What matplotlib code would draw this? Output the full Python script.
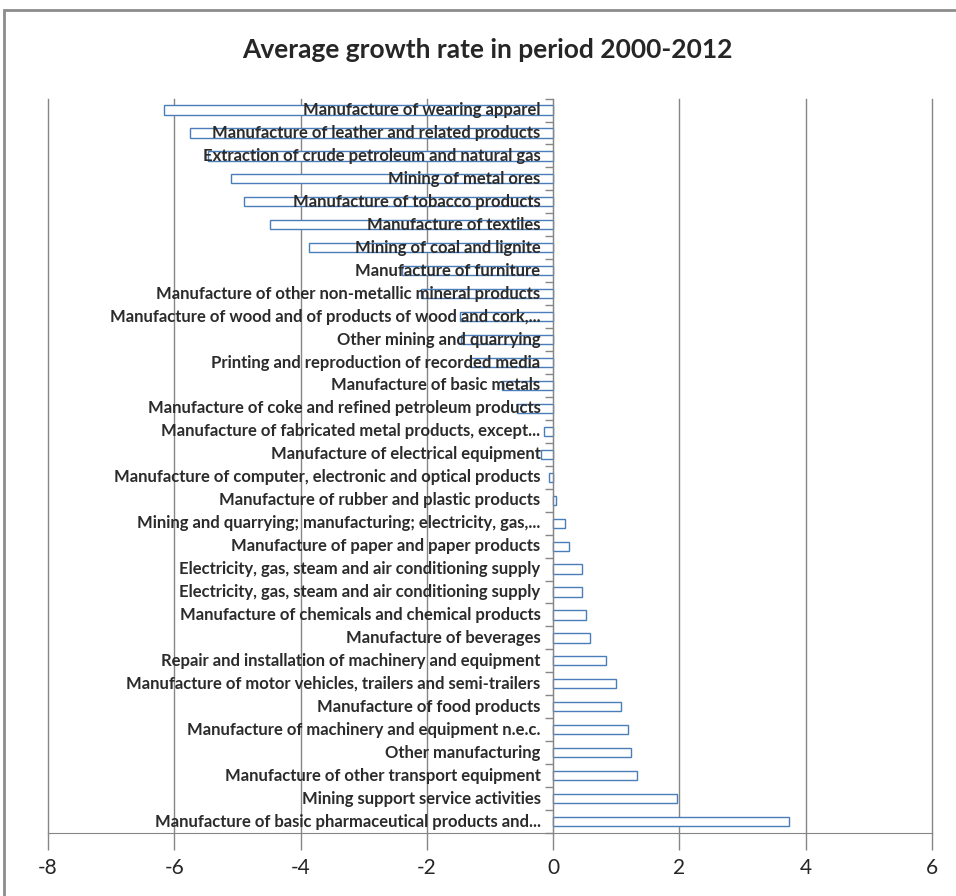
import numpy as np
import matplotlib
matplotlib.use("Agg")
import matplotlib.pyplot as plt
from matplotlib.patches import Rectangle

plt.rcParams['font.family'] = ['Lato', 'DejaVu Sans']

# industries, top of the chart first
sectors = [
    "Manufacture of wearing apparel",
    "Manufacture of leather and related products",
    "Extraction of crude petroleum and natural gas",
    "Mining of metal ores",
    "Manufacture of tobacco products",
    "Manufacture of textiles",
    "Mining of coal and lignite",
    "Manufacture of furniture",
    "Manufacture of other non-metallic mineral products",
    "Manufacture of wood and of products of wood and cork,...",
    "Other mining and quarrying",
    "Printing and reproduction of recorded media",
    "Manufacture of basic metals",
    "Manufacture of coke and refined petroleum products",
    "Manufacture of fabricated metal products, except...",
    "Manufacture of electrical equipment",
    "Manufacture of computer, electronic and optical products",
    "Manufacture of rubber and plastic products",
    "Mining and quarrying; manufacturing; electricity, gas,...",
    "Manufacture of paper and paper products",
    "Electricity, gas, steam and air conditioning supply",
    "Electricity, gas, steam and air conditioning supply",
    "Manufacture of chemicals and chemical products",
    "Manufacture of beverages",
    "Repair and installation of machinery and equipment",
    "Manufacture of motor vehicles, trailers and semi-trailers",
    "Manufacture of food products",
    "Manufacture of machinery and equipment n.e.c.",
    "Other manufacturing",
    "Manufacture of other transport equipment",
    "Mining support service activities",
    "Manufacture of basic pharmaceutical products and...",
]

growth = [
    -6.17, -5.75, -5.46, -5.10, -4.90, -4.48, -3.87, -2.39,
    -2.10, -1.47, -1.46, -1.31, -0.81, -0.57, -0.15, -0.19,
    -0.07, 0.05, 0.19, 0.25, 0.45, 0.45, 0.52, 0.58,
    0.84, 0.99, 1.07, 1.19, 1.23, 1.33, 1.96, 3.74,
]

xticks = [-8, -6, -4, -2, 0, 2, 4, 6]

grey = '#868686'
blue = '#4a7ebb'

fig = plt.figure(figsize=(9.56, 8.96), dpi=100)
ax = fig.add_axes([0.0502, 0.0703, 0.9247, 0.8197])

pos = np.arange(len(sectors))
ax.barh(pos, growth, height=0.4, color='white', edgecolor=blue,
        linewidth=1.0, zorder=2)

for y, name in zip(pos, sectors):
    ax.text(-0.2, y, name, ha='right', va='center', fontsize=12,
            fontweight='bold', color='#2b2b2b', zorder=3)

ax.set_xlim(-8, 6)
ax.set_ylim(len(sectors) - 0.5, -0.5)
ax.set_xticks(xticks)
ax.set_xticklabels([str(t) for t in xticks], fontsize=15, color='#262626')
ax.xaxis.grid(True, color=grey, linewidth=1.0, zorder=0)
ax.set_axisbelow(True)
for gl in ax.get_xgridlines():
    gl.set_clip_on(False)
ax.tick_params(axis='x', direction='out', length=12, width=1.0,
               color=grey, pad=6)

# category axis sits on x = 0 with ticks between categories
ax.spines['left'].set_position(('data', 0))
ax.spines['left'].set_color(grey)
ax.set_yticks(np.arange(len(sectors) + 1) - 0.5)
ax.set_yticklabels([])
ax.tick_params(axis='y', direction='out', length=6, width=1.0, color=grey)

ax.spines['bottom'].set_color(grey)
ax.spines['top'].set_visible(False)
ax.spines['right'].set_visible(False)

fig.text(0.51, 0.944, "Average growth rate in period 2000-2012",
         ha='center', va='center', fontsize=19, fontweight='bold',
         color='#262626')

# chart area border
fig.patches.append(Rectangle((0.004, -0.1), 1.2, 1.089,
                             transform=fig.transFigure, fill=False,
                             edgecolor='#8c8c8c', linewidth=2.0))

fig.savefig('out.png', dpi=100)
